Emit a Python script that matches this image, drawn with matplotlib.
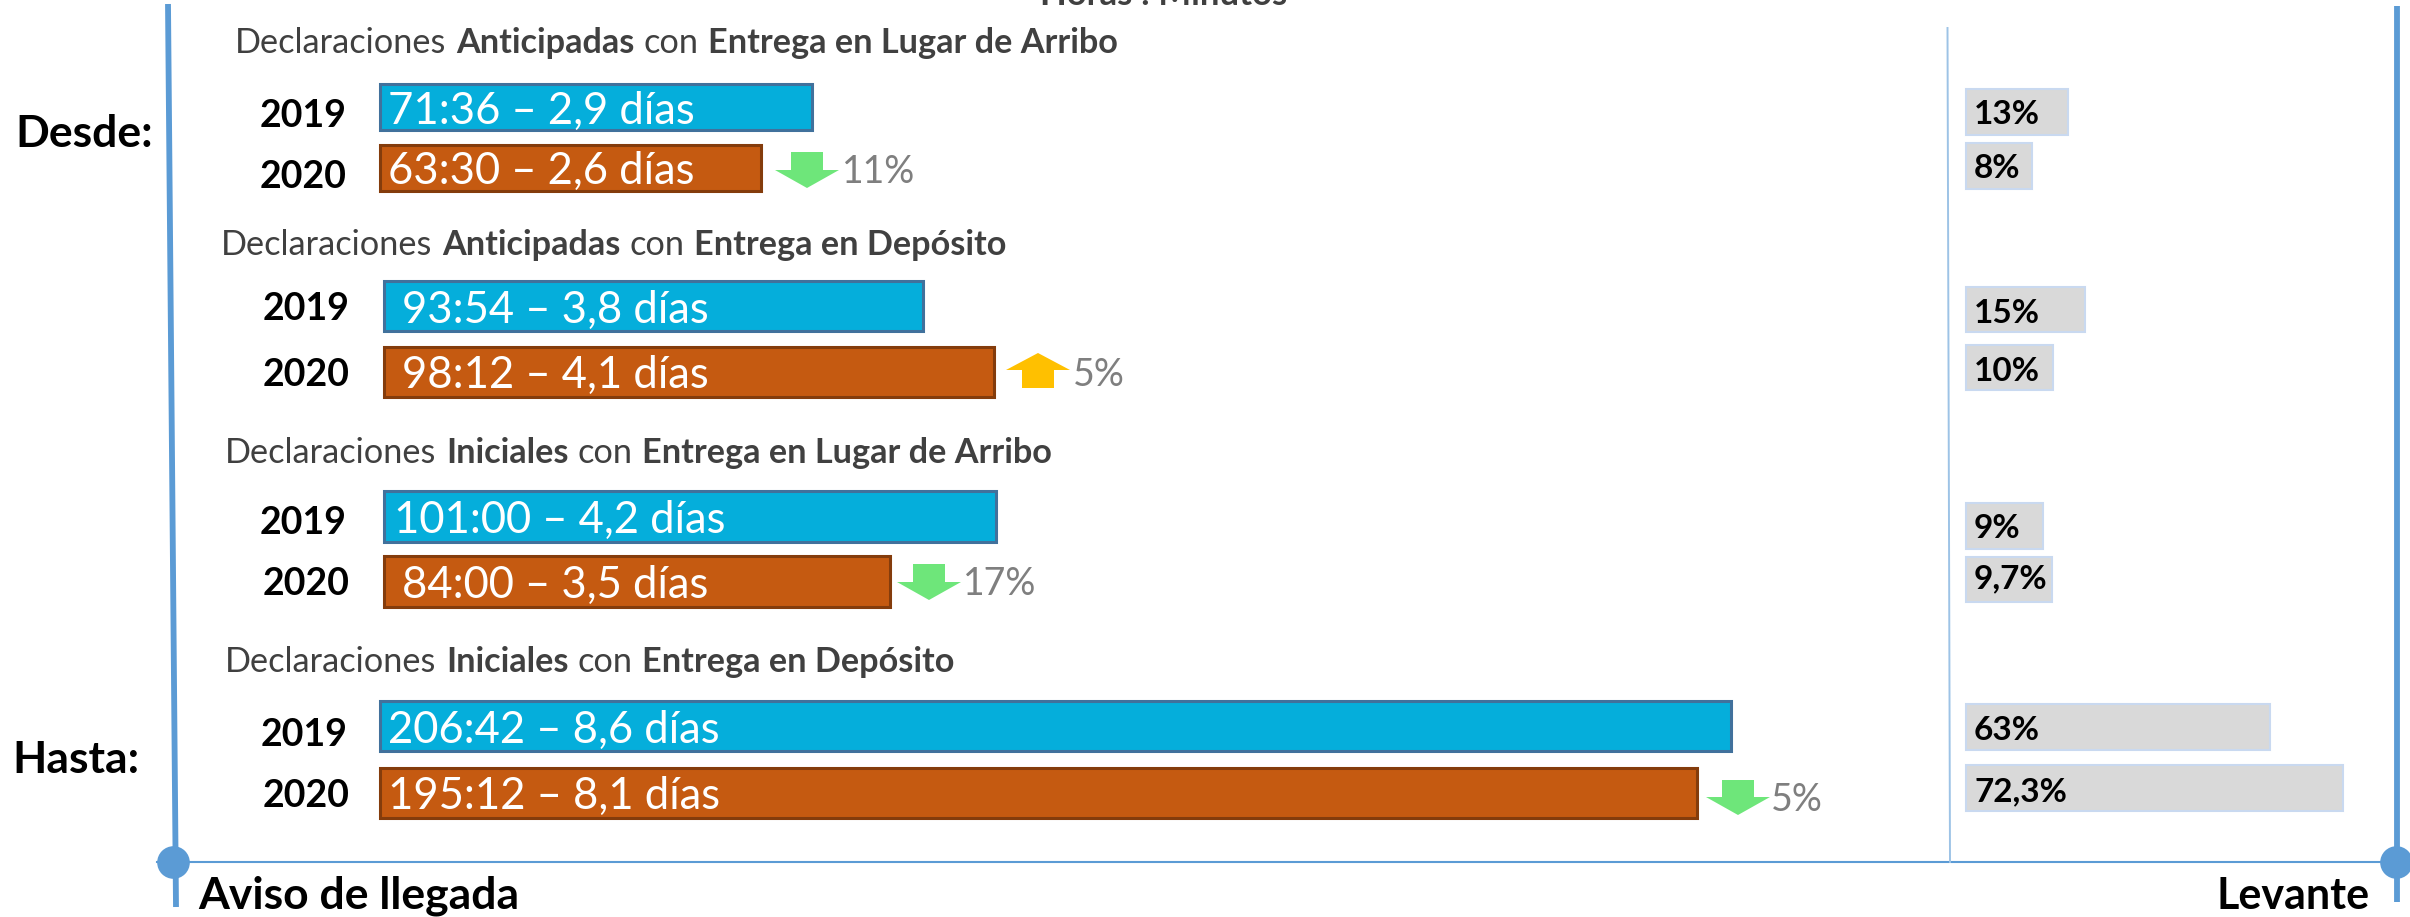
import matplotlib
matplotlib.use('Agg')
import matplotlib.pyplot as plt

plt.rcParams['font.family'] = ['Lato', 'DejaVu Sans']

# Data
years = ['2019', '2020']
title_parts = [
    ['Anticipadas', 'Entrega en Lugar de Arribo'],
    ['Anticipadas', 'Entrega en Depósito'],
    ['Iniciales', 'Entrega en Lugar de Arribo'],
    ['Iniciales', 'Entrega en Depósito'],
]
labels_2019 = ['71:36 – 2,9 días', '93:54 – 3,8 días', '101:00 – 4,2 días', '206:42 – 8,6 días']
labels_2020 = ['63:30 – 2,6 días', '98:12 – 4,1 días', '84:00 – 3,5 días', '195:12 – 8,1 días']
# bar lengths as drawn, in hours (the original bars are not strictly to scale)
hours_2019 = [71.4, 89.1, 101.1, 223.3]
hours_2020 = [62.9, 100.9, 83.6, 217.7]
delta_labels = ['11%', '5%', '17%', '5%']
delta_up = [False, True, False, False]
share_labels_2019 = ['13%', '15%', '9%', '63%']
share_labels_2020 = ['8%', '10%', '9,7%', '72,3%']
# grey bar lengths as drawn, in percent
share_2019 = [12.75, 14.9, 9.6, 38.0]
share_2020 = [8.25, 10.9, 10.75, 47.1]

# Layout, in pixels of the 2410x917 picture
W, H = 2410, 917
hour_px = 6.05
share_px = 8.0
bar_origin = 381
share_origin = 1966
bar_shift = [-1, 3, 3, -1]
bar_top_2019 = [84, 281, 491, 701]
bar_bot_2019 = [130, 331, 542, 751]
bar_top_2020 = [145, 347, 556, 768]
bar_bot_2020 = [191, 397, 607, 818]
share_top_2019 = [89, 287, 503, 704]
share_bot_2019 = [135, 332, 549, 750]
share_top_2020 = [143, 345, 557, 765]
share_bot_2020 = [189, 390, 602, 811]
title_x = [235, 221, 225, 225]
title_y = [53, 255, 463, 672]
year_x = [260, 263, 260, 261]
year_x2 = [260, 263, 263, 263]
year_y_2019 = [127, 320, 534, 746]
year_y_2020 = [188, 386, 595, 807]
label_x_2019 = [388, 402, 394, 388]
label_x_2020 = [388, 402, 402, 388]
label_y_2019 = [124, 323, 533, 743]
label_y_2020 = [184, 388, 598, 809]
share_y_2019 = [124, 323, 538, 740]
share_y_2020 = [178, 381, 588, 801]
arrow_x = [807, 1038, 929, 1738]
arrow_top = [152, 353, 564, 780]
arrow_bot = [188, 388, 600, 815]
delta_x = [842, 1073, 963, 1771]
delta_y = [183, 386, 595, 811]

BLUE, BLUE_EDGE = '#05AEDB', '#41719C'
ORANGE, ORANGE_EDGE = '#C55A11', '#843C0C'
GREY, GREY_EDGE = '#D9D9D9', '#C9D9F0'
LINE = '#5B9BD5'

fig = plt.figure(figsize=(W / 100, H / 100), dpi=100, facecolor='white')

# hours axis for the main bars
ax = fig.add_axes([0, 0, 1, 1])
ax.set_xlim(-bar_origin / hour_px, (W - bar_origin) / hour_px)
ax.set_ylim(H, 0)
ax.axis('off')
for i in range(4):
    shift = bar_shift[i] / hour_px
    ax.barh((bar_top_2019[i] + bar_bot_2019[i]) / 2, hours_2019[i], left=shift,
            height=bar_bot_2019[i] - bar_top_2019[i], color=BLUE, edgecolor=BLUE_EDGE, linewidth=2.2)
    ax.barh((bar_top_2020[i] + bar_bot_2020[i]) / 2, hours_2020[i], left=shift,
            height=bar_bot_2020[i] - bar_top_2020[i], color=ORANGE, edgecolor=ORANGE_EDGE, linewidth=2.2)

# percent axis for the grey bars
ax2 = fig.add_axes([0, 0, 1, 1])
ax2.set_xlim(-share_origin / share_px, (W - share_origin) / share_px)
ax2.set_ylim(H, 0)
ax2.axis('off')
for i in range(4):
    ax2.barh((share_top_2019[i] + share_bot_2019[i]) / 2, share_2019[i],
             height=share_bot_2019[i] - share_top_2019[i], color=GREY, edgecolor=GREY_EDGE, linewidth=1.5)
    ax2.barh((share_top_2020[i] + share_bot_2020[i]) / 2, share_2020[i],
             height=share_bot_2020[i] - share_top_2020[i], color=GREY, edgecolor=GREY_EDGE, linewidth=1.5)

# pixel overlay for lines, arrows and text
ov = fig.add_axes([0, 0, 1, 1])
ov.set_xlim(0, W)
ov.set_ylim(H, 0)
ov.axis('off')
ov.patch.set_alpha(0)

ov.plot([168, 176], [4, 907], color=LINE, lw=4.2, solid_capstyle='butt')
ov.plot([2397, 2397], [6, 902], color=LINE, lw=4.2, solid_capstyle='butt')
ov.plot([157, 2385], [862, 862], color=LINE, lw=1.5)
ov.plot([1947.5, 1950], [28, 862], color='#9DC3E6', lw=1.4)
ov.plot([173, 2396], [862, 862], 'o', color=LINE, ms=23.5, mew=0, ls='none')

renderer = fig.canvas.get_renderer()


def mixed_title(x, y, parts):
    for txt, weight in parts:
        t = ov.text(x, y, txt, fontsize=TITLE_SIZE, color='#404040', fontweight=weight, va='baseline', ha='left')
        x = x + t.get_window_extent(renderer).width + SPACE


TITLE_SIZE = 24.7
SPACE = 9.5
for i in range(4):
    mixed_title(title_x[i], title_y[i], [('Declaraciones', 'normal'), (title_parts[i][0], 'bold'),
                                         ('con', 'normal'), (title_parts[i][1], 'bold')])
    ov.text(year_x[i], year_y_2019[i], years[0], fontsize=27, fontweight='bold', color='black')
    ov.text(year_x2[i], year_y_2020[i], years[1], fontsize=27, fontweight='bold', color='black')
    ov.text(label_x_2019[i], label_y_2019[i], labels_2019[i], fontsize=31.4, color='white')
    ov.text(label_x_2020[i], label_y_2020[i], labels_2020[i], fontsize=31.4, color='white')
    ov.text(1974, share_y_2019[i], share_labels_2019[i], fontsize=24, fontweight='bold', color='black')
    ov.text(1974, share_y_2020[i], share_labels_2020[i], fontsize=24, fontweight='bold', color='black')

    # change arrow and its label
    cx, top, bot = arrow_x[i], arrow_top[i], arrow_bot[i]
    if delta_up[i]:
        neck = top + 17
        xs = [cx, cx + 32, cx + 16, cx + 16, cx - 16, cx - 16, cx - 32]
        ys = [top, neck, neck, bot, bot, neck, neck]
        col = '#FFC000'
    else:
        neck = bot - 18
        xs = [cx, cx + 32, cx + 16, cx + 16, cx - 16, cx - 16, cx - 32]
        ys = [bot, neck, neck, top, top, neck, neck]
        col = '#6EE67A'
    ov.fill(xs, ys, color=col, lw=0)
    ov.text(delta_x[i], delta_y[i], delta_labels[i], fontsize=27, color='#7F7F7F')

ov.text(15, 147, 'Desde:', fontsize=32, fontweight='bold', color='black')
ov.text(12, 773, 'Hasta:', fontsize=32, fontweight='bold', color='black')
ov.text(198, 909, 'Aviso de llegada', fontsize=32, fontweight='bold', color='black')
ov.text(2216, 909, 'Levante', fontsize=31, fontweight='bold', color='black')
ov.text(1040, 5, 'Horas : Minutos', fontsize=25, fontweight='bold', color='#404040')

fig.savefig('out.png', dpi=100, facecolor='white')
